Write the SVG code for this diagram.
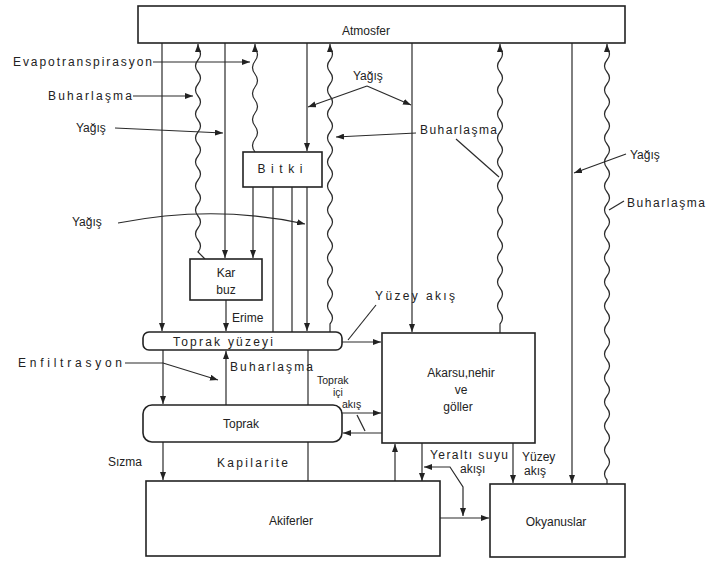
<svg xmlns="http://www.w3.org/2000/svg" width="708" height="563" viewBox="0 0 708 563">
<defs>
<marker id="ah" markerUnits="userSpaceOnUse" markerWidth="8" markerHeight="6" refX="8" refY="3" orient="auto-start-reverse"><path d="M0,0 L8,3 L0,6 z" fill="#222"/></marker>
<style>
.b{fill:#fff;stroke:#222;stroke-width:1.6}
.c{fill:none;stroke:#2a2a2a;stroke-width:1.2}
.a{marker-end:url(#ah)}
.s{marker-start:url(#ah)}
text{font-family:"Liberation Sans",Arial,sans-serif;font-size:12px;fill:#222}
.m{text-anchor:middle}
.sm{font-size:10.5px}
</style>
</defs>
<rect width="708" height="563" fill="#fff"/>
<g id="connectors">
<path class="c a" d="M162,43 V331"/>
<path class="c s" d="M198,44 V48 q5,6 0,12 t0,12 t0,12 t0,12 t0,12 t0,12 t0,12 t0,12 t0,12 t0,12 t0,12 t0,12 t0,12 t0,12 t0,12 t0,12 t0,12 L205,259"/>
<path class="c a" d="M225,43 V258"/>
<path class="c a" d="M253,187 V258"/>
<path class="c s" d="M255,44 V48 q5,6.5 0,13 t0,13 t0,13 t0,13 t0,13 t0,13 t0,13 t0,13"/>
<path class="c a" d="M307,43 V151"/>
<path class="c a" d="M307,187 V331"/>
<path class="c" d="M273,187 V332"/>
<path class="c" d="M292,187 V333 H330"/>
<path class="c s" d="M330,44 V48 q5,6 0,12 t0,12 t0,12 t0,12 t0,12 t0,12 t0,12 t0,12 t0,12 t0,12 t0,12 t0,12 t0,12 t0,12 t0,12 t0,12 t0,12 t0,12 t0,12 t0,12 t0,12 t0,12 t0,12 V332"/>
<path class="c a" d="M412,43 V332"/>
<path class="c s" d="M500,44 V48 q5,6 0,12 t0,12 t0,12 t0,12 t0,12 t0,12 t0,12 t0,12 t0,12 t0,12 t0,12 t0,12 t0,12 t0,12 t0,12 t0,12 t0,12 t0,12 t0,12 t0,12 t0,12 t0,12 t0,12 V333"/>
<path class="c a" d="M572,43 V483"/>
<path class="c s" d="M607,44 V48 q5,6 0,12 t0,12 t0,12 t0,12 t0,12 t0,12 t0,12 t0,12 t0,12 t0,12 t0,12 t0,12 t0,12 t0,12 t0,12 t0,12 t0,12 t0,12 t0,12 t0,12 t0,12 t0,12 t0,12 t0,12 t0,12 t0,12 t0,12 t0,12 t0,12 t0,12 t0,12 t0,12 t0,12 t0,12 t0,12 t0,12 V484"/>
<path class="c a" d="M226,300 V331"/>
<path class="c a" d="M163,350 V404"/>
<path class="c a" d="M226,405 V351"/>
<path class="c" d="M308,350 V405"/>
<path class="c" d="M308,442 V481"/>
<path class="c a" d="M163,442 V480"/>
<path class="c a" d="M342,342 H381"/>
<path class="c a" d="M342,413 H381"/>
<path class="c a" d="M382,433 H343"/>
<path class="c" d="M357,415 L365,431"/>
<path class="c a" d="M395,481 V444"/>
<path class="c a" d="M422,443 V481"/>
<path class="c a" d="M513,443 V483"/>
<path class="c a" d="M440,518 H489"/>
<path class="c s a" d="M424,467 H450 L463,487 V516"/>
<path class="c a" d="M153,62 H250"/>
<path class="c a" d="M133,96 H193"/>
<path class="c a" d="M115,128 L223,133"/>
<path class="c a" d="M367,86 L308,107"/>
<path class="c a" d="M367,86 L411,105"/>
<path class="c a" d="M416,133 L336,137"/>
<path class="c" d="M456,139 L499,177"/>
<path class="c a" d="M626,154 L574,173"/>
<path class="c" d="M624,201 L609,210"/>
<path class="c a" d="M118,223 Q215,204 305,224"/>
<path class="c" d="M376,305 L348,340"/>
<path class="c a" d="M125,363 H163 L218,380"/>
</g>
<g id="atmosfer"><rect class="b" x="138" y="6" width="487" height="37"/><text class="m" x="366" y="35">Atmosfer</text></g>
<g id="bitki"><rect class="b" x="243" y="152" width="79" height="35"/><text class="m" x="280" y="173" textLength="45" lengthAdjust="spacing">Bitki</text></g>
<g id="karbuz"><rect class="b" x="190" y="259" width="72" height="41"/><text class="m" x="226" y="277">Kar</text><text class="m" x="226" y="294">buz</text></g>
<g id="topraky"><rect class="b" x="143" y="332" width="199" height="18" rx="6"/><text class="m" x="223" y="346" textLength="100" lengthAdjust="spacing">Toprak yüzeyi</text></g>
<g id="toprak"><rect class="b" x="143" y="405" width="199" height="37" rx="9"/><text class="m" x="241" y="428">Toprak</text></g>
<g id="akarsu"><rect class="b" x="382" y="333" width="153" height="110"/><text class="m" x="461" y="377">Akarsu,nehir</text><text class="m" x="461" y="394">ve</text><text class="m" x="458" y="411">göller</text></g>
<g id="akiferler"><rect class="b" x="146" y="481" width="294" height="75"/><text class="m" x="291" y="525">Akiferler</text></g>
<g id="okyanuslar"><rect class="b" x="490" y="484" width="135" height="73"/><text class="m" x="556" y="526">Okyanuslar</text></g>
<g id="labels">
<text x="13" y="66" textLength="139" lengthAdjust="spacing">Evapotranspirasyon</text>
<text x="48" y="100" textLength="84" lengthAdjust="spacing">Buharlaşma</text>
<text x="76" y="132">Yağış</text>
<text x="353" y="80">Yağış</text>
<text x="420" y="134" textLength="77" lengthAdjust="spacing">Buharlaşma</text>
<text x="630" y="159">Yağış</text>
<text x="627" y="207" textLength="78" lengthAdjust="spacing">Buharlaşma</text>
<text x="72" y="226">Yağış</text>
<text x="232" y="322">Erime</text>
<text x="375" y="300" textLength="80" lengthAdjust="spacing">Yüzey akış</text>
<text x="18" y="367" textLength="104" lengthAdjust="spacing">Enfiltrasyon</text>
<text x="230" y="371" textLength="83" lengthAdjust="spacing">Buharlaşma</text>
<text class="sm" x="317" y="384">Toprak</text>
<text class="sm" x="333" y="396">içi</text>
<text class="sm" x="342" y="408">akış</text>
<text x="108" y="466">Sızma</text>
<text x="217" y="467" textLength="71" lengthAdjust="spacing">Kapilarite</text>
<text x="430" y="459" textLength="78" lengthAdjust="spacing">Yeraltı suyu</text>
<text x="460" y="473">akışı</text>
<text x="522" y="461">Yüzey</text>
<text x="524" y="475">akış</text>
</g>
</svg>
